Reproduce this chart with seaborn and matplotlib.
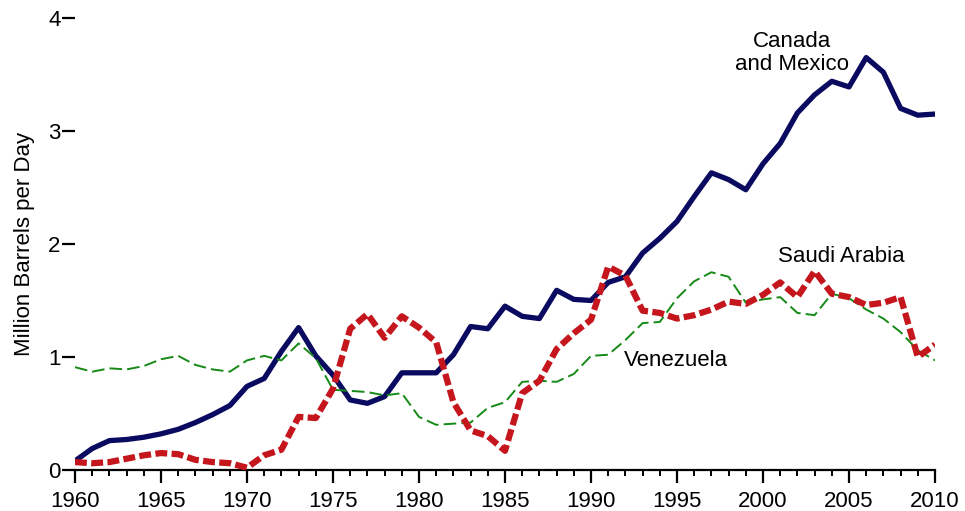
import numpy as np
import pandas as pd
import matplotlib
matplotlib.use('Agg')
import matplotlib.pyplot as plt
import seaborn as sns
from matplotlib.ticker import MultipleLocator

# data (million barrels per day)
years = list(range(1960, 2011))
canada_mexico = [0.08, 0.19, 0.26, 0.27, 0.29, 0.32, 0.36, 0.42, 0.49, 0.57,
                 0.74, 0.81, 1.05, 1.26, 1.01, 0.84, 0.62, 0.59, 0.65, 0.86,
                 0.86, 0.86, 1.02, 1.27, 1.25, 1.45, 1.36, 1.34, 1.59, 1.51,
                 1.50, 1.66, 1.71, 1.92, 2.05, 2.20, 2.42, 2.63, 2.57, 2.48,
                 2.71, 2.89, 3.16, 3.32, 3.44, 3.39, 3.65, 3.52, 3.20, 3.14,
                 3.15]
saudi_arabia = [0.07, 0.06, 0.07, 0.10, 0.13, 0.15, 0.14, 0.09, 0.07, 0.06,
                0.02, 0.13, 0.18, 0.47, 0.46, 0.72, 1.25, 1.38, 1.17, 1.36,
                1.26, 1.13, 0.60, 0.35, 0.30, 0.17, 0.68, 0.79, 1.07, 1.21,
                1.33, 1.80, 1.72, 1.41, 1.39, 1.34, 1.37, 1.42, 1.49, 1.47,
                1.55, 1.66, 1.53, 1.76, 1.56, 1.53, 1.46, 1.48, 1.53, 1.00,
                1.11]
venezuela = [0.91, 0.87, 0.90, 0.89, 0.92, 0.98, 1.01, 0.93, 0.89, 0.87,
             0.97, 1.01, 0.97, 1.12, 0.99, 0.71, 0.70, 0.69, 0.66, 0.68,
             0.47, 0.40, 0.41, 0.42, 0.55, 0.60, 0.78, 0.79, 0.78, 0.85,
             1.01, 1.02, 1.15, 1.30, 1.31, 1.52, 1.67, 1.75, 1.71, 1.48,
             1.51, 1.53, 1.39, 1.37, 1.56, 1.52, 1.42, 1.34, 1.22, 1.06,
             0.97]

sns.set_style('ticks')
plt.rcParams['font.family'] = ['Liberation Sans', 'DejaVu Sans']
plt.rcParams['text.color'] = 'black'
plt.rcParams['xtick.color'] = 'black'
plt.rcParams['ytick.color'] = 'black'

fig = plt.figure(figsize=(9.65, 5.11), dpi=100)
ax = fig.add_axes([75/965, 41/511, 860/965, 452/511])

sns.lineplot(x=years, y=canada_mexico, ax=ax, color='#0a0a60', lw=3.8,
             solid_joinstyle='round', zorder=3)
sns.lineplot(x=years, y=venezuela, ax=ax, color='#168a16', lw=1.4,
             linestyle=(0, (6.5, 2.6)), zorder=4)
sns.lineplot(x=years, y=saudi_arabia, ax=ax, color='#c4161c', lw=4.5,
             linestyle=(0, (1.9, 0.7)), zorder=5)

ax.set_xlim(1960, 2010)
ax.set_ylim(0, 4)
ax.xaxis.set_major_locator(MultipleLocator(5))
ax.xaxis.set_minor_locator(MultipleLocator(1))
ax.yaxis.set_major_locator(MultipleLocator(1))

for s in ['top', 'right', 'left']:
    ax.spines[s].set_visible(False)
ax.spines['bottom'].set_linewidth(1.6)
ax.spines['bottom'].set_color('black')

ax.tick_params(axis='x', which='major', length=9, width=1.6, labelsize=16,
               pad=6, color='black', labelcolor='black')
ax.tick_params(axis='x', which='minor', length=4.5, width=1.4, color='black')
ax.tick_params(axis='y', which='major', length=9.5, width=1.6, labelsize=16,
               pad=1, color='black', labelcolor='black')
ax.set_xlabel('')
ax.set_ylabel('')

fig.text(25/965, 1 - 244/511, 'Million Barrels per Day', rotation=90,
         ha='center', va='center', fontsize=16, color='black')

ax.text(2001.7, 3.69, 'Canada\nand Mexico', ha='center', va='center',
        fontsize=16, linespacing=1.15, color='black')
ax.text(2000.9, 1.885, 'Saudi Arabia', ha='left', va='center', fontsize=16,
        color='black')
ax.text(1991.9, 0.97, 'Venezuela', ha='left', va='center', fontsize=16,
        color='black')

fig.savefig('out.png', dpi=100)
